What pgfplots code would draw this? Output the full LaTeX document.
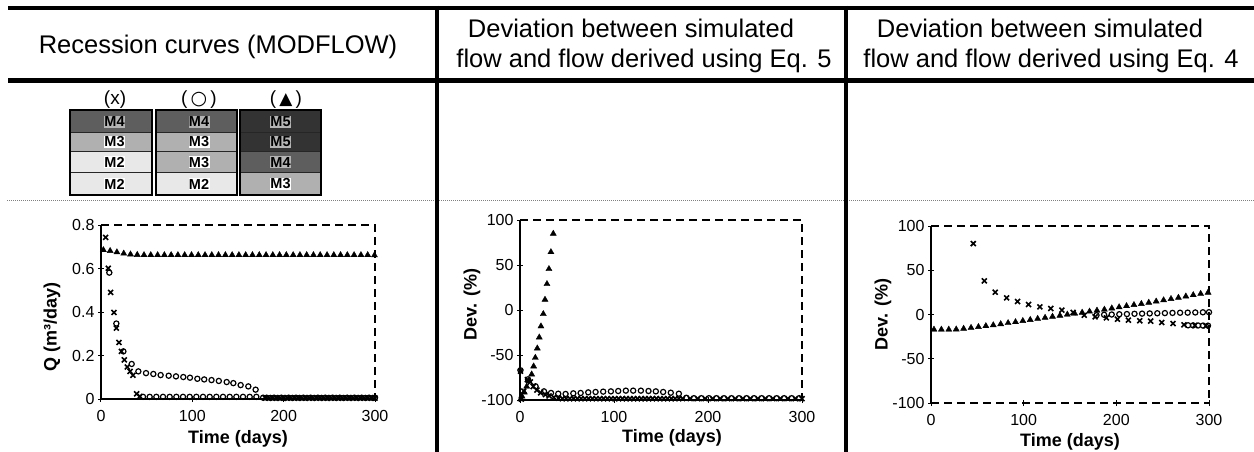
\documentclass[border=0pt]{standalone}
\usepackage{fontspec}
\setmainfont{Liberation Sans}
\newfontfamily\dvsans{DejaVu Sans}
\usepackage{pgfplots}
\pgfplotsset{compat=1.18}

\definecolor{mtwo}{HTML}{E8E8E8}
\definecolor{mthree}{HTML}{B0B0B0}
\definecolor{mfour}{HTML}{5E5E5E}
\definecolor{mfive}{HTML}{333333}
\definecolor{hlgray}{HTML}{B4B4B4}

\tikzset{dashframe/.style={dash pattern=on 8pt off 5pt, line width=1.3pt}}
\newcommand{\labfont}{\bfseries\fontsize{18}{20}\selectfont}

\pgfplotsset{
  panel/.style={
    scale only axis, anchor=south west, clip=false,
    axis lines=left, axis line style={-, line width=1.3pt},
    xmin=0, xmax=300, xtick={0,100,200,300},
    tick align=center, major tick length=6pt,
    tick style={black, line width=1pt},
    tick label style={font=\fontsize{16}{18}\selectfont},
    xticklabel style={yshift=-5pt},
    /pgf/number format/assume math mode=true,
    xlabel={Time (days)},
  },
  xser/.style={only marks, mark=x, mark size=3.5pt, line width=1.6pt, black},
  oser/.style={only marks, mark=o, mark size=2.6pt, line width=1.2pt, black},
  tser/.style={only marks, mark=triangle*, mark size=3.5pt, black, fill=black},
}

\newcommand{\layrow}[5]{% x0, x1, y0, y1, level
  \fill[#5] (#1,#3) rectangle (#2,#4);
  \draw[line width=1.4pt, black!85] (#1,#3) rectangle (#2,#4);
}

\begin{document}
\begin{tikzpicture}
\useasboundingbox (0pt,0pt) rectangle (1254pt,-452pt);

\begin{scope}[x=1pt,y=-1pt]
  % table rules
  \draw[gray, line width=1pt, densely dotted] (7,200) -- (1254,200);
  \draw[line width=4.5pt] (8,8) -- (1254,8);
  \draw[line width=4.5pt] (8,80.5) -- (1254,80.5);
  \draw[line width=4.5pt] (437,6) -- (437,452);
  \draw[line width=4.5pt] (846,6) -- (846,452);

  % headers
  \begin{scope}[every node/.style={font=\fontsize{25.5}{30}\selectfont, inner sep=0pt}]
    \node[anchor=base] at (218,54) {Recession curves (MODFLOW)};
    \node[anchor=base] at (631,38) {Deviation between simulated};
    \node[anchor=base] at (644,68) {flow and flow derived using Eq. 5};
    \node[anchor=base] at (1040,38) {Deviation between simulated};
    \node[anchor=base] at (1051,68) {flow and flow derived using Eq. 4};
  \end{scope}

  % layer columns
  \begin{scope}[every node/.style={font=\fontsize{19}{22}\selectfont, inner sep=0pt, anchor=base}]
    \node at (115,104) {(x)};
    \node at (199,104) {(\,{\dvsans\fontsize{19}{22}\selectfont ○}\,)};
    \node at (286,104) {(\,{\dvsans\fontsize{17}{20}\selectfont ▲}\,)};
  \end{scope}

  \layrow{70}{152}{110}{132.3}{mfour}
  \layrow{70}{152}{132.3}{151.7}{mthree}
  \layrow{70}{152}{151.7}{172.7}{mtwo}
  \layrow{70}{152}{172.7}{195}{mtwo}
  \draw[line width=2.6pt] (70,110) rectangle (152,195);

  \layrow{156}{237}{110}{132.3}{mfour}
  \layrow{156}{237}{132.3}{151.7}{mthree}
  \layrow{156}{237}{151.7}{172.7}{mthree}
  \layrow{156}{237}{172.7}{195}{mtwo}
  \draw[line width=2.6pt] (156,110) rectangle (237,195);

  \layrow{240}{321}{110}{132.3}{mfive}
  \layrow{240}{321}{132.3}{151.7}{mfive}
  \layrow{240}{321}{151.7}{172.7}{mfour}
  \layrow{240}{321}{172.7}{195}{mthree}
  \draw[line width=2.6pt] (240,110) rectangle (321,195);

  \begin{scope}[every node/.style={font=\bfseries\fontsize{14.5}{16}\selectfont, inner sep=0pt, minimum width=21pt, minimum height=12pt}]
    \node[fill=hlgray] at (114.5,121.5) {M4};
    \node[fill=white]  at (114.5,142)   {M3};
    \node[fill=white]  at (114.5,162.2) {M2};
    \node[fill=white]  at (114.5,184)   {M2};
    \node[fill=hlgray] at (199,121.5) {M4};
    \node[fill=white]  at (199,142)   {M3};
    \node[fill=white]  at (199,162.2) {M3};
    \node[fill=white]  at (199,184)   {M2};
    \node[fill=hlgray] at (280.5,121.5) {M5};
    \node[fill=hlgray] at (280.5,142)   {M5};
    \node[fill=hlgray] at (280.5,162.2) {M4};
    \node[fill=white]  at (280.5,184)   {M3};
  \end{scope}
\end{scope}

% ---------- panel 1: recession curves
\begin{axis}[panel, at={(101pt,-399pt)}, width=274pt, height=174pt,
  ymin=0, ymax=0.8, ytick={0,0.2,0.4,0.6,0.8},
  ylabel={Q (m³/day)},
  every axis y label/.style={at={([xshift=-49pt]rel axis cs:0,0.415)}, rotate=90, anchor=center, font=\labfont},
  every axis x label/.style={at={([yshift=-40pt]rel axis cs:0.5,0)}, anchor=center, font=\labfont},
]
\draw[dashframe] (rel axis cs:0,1) -- (rel axis cs:1,1) -- (rel axis cs:1,0);
\addplot[tser] coordinates {
  (2.6,0.685) (10.0,0.681) (17.4,0.675) (24.9,0.669) (32.3,0.665) (39.7,0.663)
  (47.1,0.662) (54.5,0.662) (62.0,0.662) (69.4,0.662) (76.8,0.662) (84.2,0.662)
  (91.6,0.662) (99.1,0.662) (106.5,0.662) (113.9,0.662) (121.3,0.662) (128.7,0.662)
  (136.2,0.662) (143.6,0.662) (151.0,0.662) (158.4,0.662) (165.8,0.662) (173.3,0.662)
  (180.7,0.662) (188.1,0.662) (195.5,0.662) (202.9,0.662) (210.4,0.662) (217.8,0.662)
  (225.2,0.662) (232.6,0.662) (240.0,0.662) (247.5,0.662) (254.9,0.662) (262.3,0.662)
  (269.7,0.662) (277.1,0.662) (284.6,0.662) (292.0,0.662) (299.4,0.661)
};
\addplot[oser] coordinates {
  (9.1,0.581) (16.8,0.347) (24.5,0.219) (33.6,0.161) (40.9,0.127) (49.3,0.119)
  (57.3,0.115) (65.3,0.110) (74.1,0.107) (82.1,0.104) (90.1,0.101) (97.4,0.098)
  (105.5,0.093) (113.0,0.090) (121.0,0.087) (129.0,0.083) (137.6,0.078) (144.9,0.073)
  (152.9,0.064) (161.3,0.058) (169.3,0.043) (177.5,0.006) (185.5,0.005) (193.5,0.005)
  (201.5,0.005) (209.5,0.005) (217.5,0.005) (225.5,0.005) (233.5,0.005) (241.5,0.005)
  (249.5,0.005) (257.5,0.005) (265.5,0.005) (273.5,0.005) (281.5,0.005) (289.5,0.005)
  (297.5,0.005)
};
\addplot[oser] coordinates {
  (46,0.010) (53.3,0.010) (60.6,0.010) (67.9,0.010) (75.2,0.010) (82.5,0.010)
  (89.8,0.010) (97.1,0.010) (104.4,0.010) (111.7,0.010) (119,0.010) (126.3,0.010)
  (133.6,0.010) (140.9,0.010) (148.2,0.010) (155.5,0.010) (162.8,0.010) (170.1,0.010)
  (181.5,0.006) (189.5,0.006) (197.5,0.006) (205.5,0.006) (213.5,0.006) (221.5,0.006)
  (229.5,0.006) (237.5,0.006) (245.5,0.006) (253.5,0.006) (261.5,0.006) (269.5,0.006)
  (277.5,0.006) (285.5,0.006) (293.5,0.006) (300,0.006)
};
\addplot[xser] coordinates {
  (5.1,0.743) (8.0,0.601) (10.6,0.490) (14.2,0.398) (16.8,0.326) (19.7,0.260)
  (22.3,0.219) (25.5,0.180) (28.8,0.147) (31.8,0.127) (35.0,0.109) (39.0,0.024)
  (42.5,0.012)
  (180,0.004) (184,0.004) (188,0.004) (192,0.004) (196,0.004) (200,0.004)
  (204,0.004) (208,0.004) (212,0.004) (216,0.004) (220,0.004) (224,0.004)
  (228,0.004) (232,0.004) (236,0.004) (240,0.004) (244,0.004) (248,0.004)
  (252,0.004) (256,0.004) (260,0.004) (264,0.004) (268,0.004) (272,0.004)
  (276,0.004) (280,0.004) (284,0.004) (288,0.004) (292,0.004) (296,0.004) (300,0.004)
};
\end{axis}

% ---------- panel 2: deviation, Eq. 5
\begin{axis}[panel, at={(520pt,-400pt)}, width=282pt, height=180pt,
  ymin=-100, ymax=100, ytick={-100,-50,0,50,100},
  ylabel={Dev. (\%)},
  every axis y label/.style={at={([xshift=-48pt]rel axis cs:0,0.53)}, rotate=90, anchor=center, font=\labfont},
  every axis x label/.style={at={([xshift=11pt,yshift=-38pt]rel axis cs:0.5,0)}, anchor=center, font=\labfont},
]
\draw[dashframe] (rel axis cs:0,1) -- (rel axis cs:1,1) -- (rel axis cs:1,0);
\addplot[tser] coordinates {
  (0.7,-99) (2.1,-96) (4.6,-91.5) (7.1,-85) (9.6,-79) (12.4,-71.5) (14.5,-62.6)
  (16.3,-53) (18.4,-42.6) (20.5,-30.4) (22.3,-18.1) (24.8,-4.4) (26.6,11.5)
  (28.7,28.9) (30.8,45.6) (32.9,64.4) (35.4,84.8)
};
\addplot[oser] coordinates {
  (0.5,-67) (8.5,-77) (16.6,-84.8) (25.5,-90.4) (33,-92.2) (40.7,-93) (48.5,-93.3)
  (56.7,-92.6) (64.5,-92.2) (72.6,-91.5) (80.4,-91.1) (88.5,-90.7) (96.7,-90.4)
  (104.5,-90) (112.6,-89.6) (120.4,-89.6) (128.6,-89.6) (136.7,-90) (144.5,-90.4)
  (152.3,-91.1) (160.4,-91.9) (169,-93) (177,-97.5) (185,-98) (193,-98) (201,-98)
  (209,-98) (217,-98) (225,-98) (233,-98) (241,-98) (249,-98) (257,-98) (265,-98)
  (273,-98) (281,-98) (289,-98) (297,-98)
};
\addplot[xser] coordinates {
  (0.5,-68) (1.5,-99) (4,-90) (7.8,-77.4) (11,-80) (14,-85) (18,-89) (22,-92)
  (27,-94) (31,-95.5) (36,-97) (41,-98) (45,-98.5) (49,-98.5) (53,-98.5) (57,-98.5)
  (61,-98.5) (65,-98.5) (69,-98.5) (73,-98.5) (77,-98.5) (81,-98.5) (85,-98.5)
  (89,-98.5) (93,-98.5) (97,-98.5) (101,-98.5) (105,-98.5) (109,-98.5) (113,-98.5)
  (117,-98.5) (121,-98.5) (125,-98.5) (129,-98.5) (133,-98.5) (137,-98.5)
  (141,-98.5) (145,-98.5) (149,-98.5) (153,-98.5) (157,-98.5) (161,-98.5)
  (165,-98.5) (169,-98.5) (173,-98.5) (181,-98.5) (189,-98.5) (197,-98.5)
  (205,-98.5) (213,-98.5) (221,-98.5) (229,-98.5) (237,-98.5) (245,-98.5)
  (253,-98.5) (261,-98.5) (269,-98.5) (277,-98.5) (285,-98.5) (293,-98.5) (300,-98.5)
};
\end{axis}

% ---------- panel 3: deviation, Eq. 4
\begin{axis}[panel, at={(931pt,-403pt)}, width=278pt, height=177pt,
  ymin=-100, ymax=100, ytick={-100,-50,0,50,100},
  x axis line style={dash pattern=on 8pt off 5pt},
  ylabel={Dev. (\%)},
  every axis y label/.style={at={([xshift=-48pt]rel axis cs:0,0.5)}, rotate=90, anchor=center, font=\labfont},
  every axis x label/.style={at={([yshift=-39pt]rel axis cs:0.5,0)}, anchor=center, font=\labfont},
]
\draw[dashframe] (rel axis cs:0,1) -- (rel axis cs:1,1) -- (rel axis cs:1,0);
\addplot[tser] coordinates {
  (3.2,-17) (11.2,-17) (19.2,-17) (27.2,-16.8) (35.2,-16) (43.2,-15) (51.2,-14)
  (59.2,-13) (67.2,-12) (75.2,-10.8) (83.2,-9.6) (91.2,-8.5) (99.1,-7.2) (107.1,-6)
  (115.1,-4.8) (123.1,-3.6) (131.1,-2.4) (139.1,-1.2) (147.1,0) (155.1,1.1)
  (163.1,2.2) (171.1,3.4) (179.1,4.5) (187.1,5.6) (195.1,7) (203.0,8.3) (211.0,9.6)
  (219.0,10.8) (227.0,12) (235.0,13.4) (243.0,14.8) (251.0,16.2) (259.0,17.6)
  (267.0,19) (275.0,20.5) (283.0,22) (291.0,23.4) (299.0,24.8)
};
\addplot[oser] coordinates {
  (178.6,-0.8) (186.8,-0.3) (195,0) (203.2,0.3) (211.4,0.5) (219.6,0.8) (227.8,1)
  (236,1.2) (244.2,1.4) (252.4,1.6) (260.6,1.8) (268.8,2) (277,2.1) (285.2,2.3)
  (293.4,2.5) (300,2.6)
};
\addplot[oser] coordinates {
  (277.4,-12.2) (282.8,-12.3) (288.2,-12.4) (293.5,-12.5) (298.9,-12.6)
};
\addplot[xser] coordinates {
  (45.6,80.1) (57.5,38) (69.3,25.2) (81.6,18.8) (93.4,14.7) (105.3,11.3) (117.5,8.6)
  (129.3,6.8) (141.2,4.9) (153.4,2.3) (165.3,-0.8) (177.1,-2.6) (189.3,-3.8)
  (201.2,-5.3) (213,-6.4) (225.3,-7.1) (237.1,-7.5) (249,-9) (261.2,-10.2)
  (273,-11.7) (284.8,-12.3) (296.7,-12.8)
};
\end{axis}
\end{tikzpicture}
\end{document}
